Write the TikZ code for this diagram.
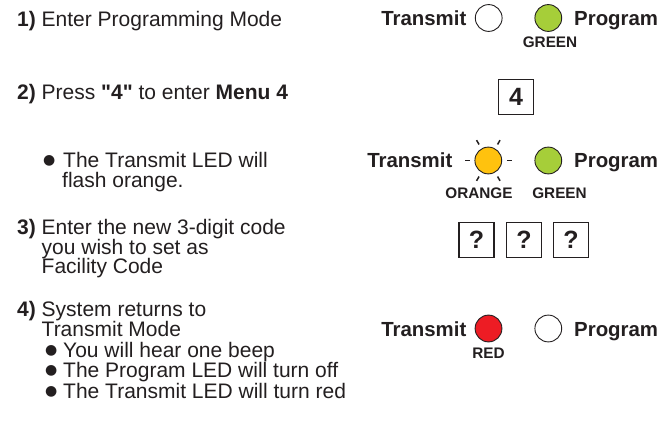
\documentclass[tikz,border=0pt]{standalone}
\usepackage{fontspec}
\setmainfont{Liberation Sans}[Ligatures=TeXOff]
\newfontfamily\symfont{DejaVu Sans}
\usetikzlibrary{calc}
\definecolor{ink}{HTML}{231F20}
\definecolor{ledgreen}{HTML}{A6CE39}
\definecolor{ledorange}{HTML}{FFC20E}
\definecolor{ledred}{HTML}{ED1C24}
\newcommand\bul{\raisebox{3bp}{\symfont\fontsize{14bp}{14bp}\selectfont ●}}
\begin{document}
\begin{tikzpicture}[x=1bp,y=-1bp,
  body/.style={anchor=base west, inner sep=0pt, text=ink, font=\fontsize{21bp}{25bp}\selectfont},
  lbl/.style={inner sep=0pt, text=ink, font=\fontsize{20.4bp}{24bp}\selectfont\bfseries},
  small/.style={anchor=base, inner sep=0pt, text=ink, font=\fontsize{15.3bp}{18bp}\selectfont\bfseries},
  led/.style={circle, draw=ink, line width=0.9bp, minimum size=26.8bp, inner sep=0pt},
  keybox/.style={draw=ink, line width=1.2bp, minimum size=35bp, inner sep=0pt, text=ink, font=\fontsize{25bp}{28bp}\selectfont\bfseries},
  ray/.style={draw=ink, line width=1.5bp}]
\useasboundingbox (0,0) rectangle (667,434);
\fill[white] (0,0) rectangle (667,434);

% left column
\node[body] (l1) at (17,27) {\textbf{1)} Enter Programming Mode};
\node[body] (l2) at (17,100) {\textbf{2)} Press \textbf{"4"} to enter \textbf{Menu 4}};
\node[body] (l3) at (43,168) {\makebox[20bp][l]{\bul}The Transmit LED will};
\node[body] (l4) at (62,187.5) {flash orange.};
\node[body] (l5) at (17,235) {\textbf{3)} Enter the new 3-digit code};
\node[body] (l6) at (41.5,254.5) {you wish to set as};
\node[body] (l7) at (41.5,274) {Facility Code};
\node[body] (l8) at (17,316.5) {\textbf{4)} System returns to};
\node[body] (l9) at (41.5,336.5) {Transmit Mode};
\node[body] (l10) at (45,357) {\makebox[18bp][l]{\bul}You will hear one beep};
\node[body] (l11) at (45,377.5) {\makebox[18bp][l]{\bul}The Program LED will turn off};
\node[body] (l12) at (45,398) {\makebox[18bp][l]{\bul}The Transmit LED will turn red};

% row 1
\node[lbl, anchor=base east] (t1) at (466.5,26) {Transmit};
\node[led, fill=white] (led1t) at (488.7,18) {};
\node[led, fill=ledgreen] (led1p) at (548.3,18) {};
\node[lbl, anchor=base west] (p1) at (574,26) {Program};
\node[small] (g1) at (550,47.5) {GREEN};

% row 2
\node[keybox] (k4) at (516,97) {4};

% row 3
\node[lbl, anchor=base east] (t3) at (452.5,168) {Transmit};
\node[led, fill=ledorange] (led3t) at (488.3,160.5) {};
\foreach \a in {0,60,...,300}
  \draw[ray] ($(led3t.center)+(\a:18.5)$) -- ($(led3t.center)+(\a:23.5)$);
\node[led, fill=ledgreen] (led3p) at (548.3,160.5) {};
\node[lbl, anchor=base west] (p3) at (574,168) {Program};
\node[small] (o3) at (479,199) {ORANGE};
\node[small] (g3) at (559.5,199) {GREEN};

% row 4
\node[keybox] (q1) at (476.5,240) {?};
\node[keybox] (q2) at (524,240) {?};
\node[keybox] (q3) at (571,240) {?};

% row 5
\node[lbl, anchor=base east] (t5) at (466.5,336) {Transmit};
\node[led, fill=ledred] (led5t) at (488.5,328.5) {};
\node[led, fill=white] (led5p) at (548.3,328.5) {};
\node[lbl, anchor=base west] (p5) at (574,336) {Program};
\node[small] (r5) at (488.5,358) {RED};
\end{tikzpicture}
\end{document}
